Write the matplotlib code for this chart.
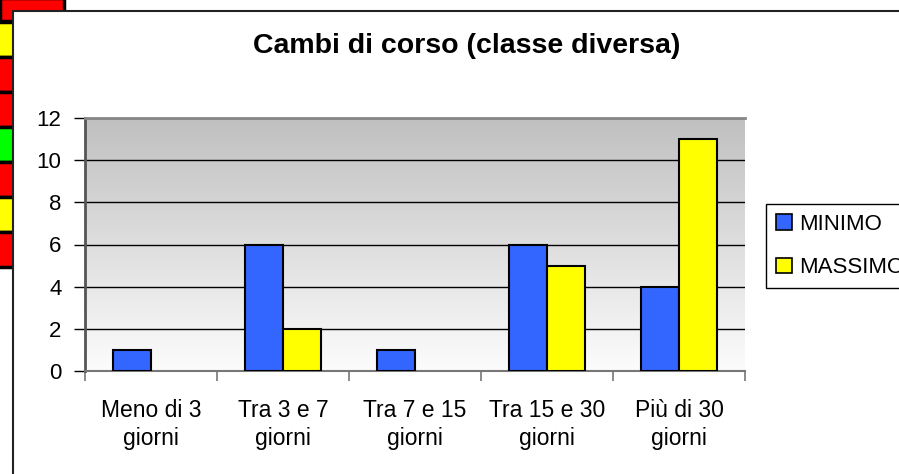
import numpy as np
import matplotlib
matplotlib.use("Agg")
import matplotlib.pyplot as plt
from matplotlib.colors import LinearSegmentedColormap
from matplotlib.patches import Rectangle, Patch

# ---------------- data ----------------
categories = ["Meno di 3\ngiorni", "Tra 3 e 7\ngiorni", "Tra 7 e 15\ngiorni",
              "Tra 15 e 30\ngiorni", "Più di 30\ngiorni"]
minimo = [1, 6, 1, 6, 4]
massimo = [0, 2, 0, 5, 11]
series_names = ["MINIMO", "MASSIMO"]
yticks = [0, 2, 4, 6, 8, 10, 12]

# spreadsheet cells peeking out on the left
cell_colors = ["#ff0000", "#ffff00", "#ff0000", "#ff0000",
               "#00ff00", "#ff0000", "#ffff00", "#ff0000"]

BLUE = "#3366ff"
YELLOW = "#ffff00"
W, H = 899, 474

plt.rcParams["font.family"] = ["Liberation Sans", "DejaVu Sans"]

fig = plt.figure(figsize=(W / 100, H / 100), dpi=100)

# ---- background layer in pixel coordinates ----
bg = fig.add_axes([0, 0, 1, 1], zorder=-5)
bg.set_xlim(0, W)
bg.set_ylim(H, 0)
bg.axis("off")

bg.add_patch(Rectangle((0, -2), 64, 23, facecolor=cell_colors[0],
                       edgecolor="k", lw=2.5))
for i, c in enumerate(cell_colors[1:]):
    y0 = 21.5 + i * 35
    bg.add_patch(Rectangle((-5, y0), 25, 35, facecolor=c,
                           edgecolor="k", lw=2.5))

# white chart box
bg.add_patch(Rectangle((12.5, 10.5), W, H, facecolor="white",
                       edgecolor="#222222", lw=1.5, zorder=5))

# ---- main axes ----
ax = fig.add_axes([85 / W, 1 - 371 / H, 660 / W, 253 / H], zorder=2)

cmap = LinearSegmentedColormap.from_list("g", ["#fcfcfc", "#c0c0c0"])
grad = np.linspace(0, 1, 256)[:, None]
ax.imshow(grad, extent=(0, 1, 0, 1), transform=ax.transAxes, origin="lower",
          aspect="auto", cmap=cmap, zorder=0)

x = np.arange(len(categories))
bw = 0.288
lw_min = [0 if v == 0 else 1.5 for v in minimo]
lw_max = [0 if v == 0 else 1.5 for v in massimo]
ax.bar(x - bw / 2, minimo, bw, color=BLUE, edgecolor="k", linewidth=lw_min,
       zorder=3)
ax.bar(x + bw / 2, massimo, bw, color=YELLOW, edgecolor="k", linewidth=lw_max,
       zorder=3)

ax.set_xlim(-0.5, len(categories) - 0.5)
ax.set_ylim(0, 12)
ax.set_yticks(yticks)
ax.yaxis.grid(True, color="k", lw=1.0, zorder=1)
ax.set_axisbelow(True)

ax.set_xticks(np.arange(len(categories) + 1) - 0.5)
ax.set_xticklabels([])
ax.set_xticks(x, minor=True)
ax.set_xticklabels(categories, minor=True, fontsize=16.5, linespacing=1.3)
ax.tick_params(axis="x", which="major", length=7, width=1.2, color="#777777")
ax.tick_params(axis="x", which="minor", length=0, pad=20)
ax.tick_params(axis="y", length=8, width=1.0, color="k", pad=9, labelsize=16)

ax.spines["right"].set_visible(False)
ax.spines["top"].set_color("#888888")
ax.spines["top"].set_linewidth(2)
ax.spines["left"].set_color("#555555")
ax.spines["left"].set_linewidth(2)
ax.spines["bottom"].set_color("#777777")
ax.spines["bottom"].set_linewidth(1.5)

fig.text(467 / W, 1 - 46 / H, "Cambi di corso (classe diversa)",
         fontsize=20.5, fontweight="bold", ha="center", va="center")

handles = [Patch(facecolor=BLUE, edgecolor="k", lw=1.2),
           Patch(facecolor=YELLOW, edgecolor="k", lw=1.2)]
leg = fig.legend(handles, series_names, loc="upper left",
                 bbox_to_anchor=(766 / W, 1 - 204 / H), borderaxespad=0,
                 fancybox=False, edgecolor="k", fontsize=16,
                 handlelength=0.7, handleheight=0.7, handletextpad=0.35,
                 labelspacing=1.0, borderpad=0.45, framealpha=1)
leg.get_frame().set_linewidth(1.0)

fig.savefig("out.png", dpi=100)
